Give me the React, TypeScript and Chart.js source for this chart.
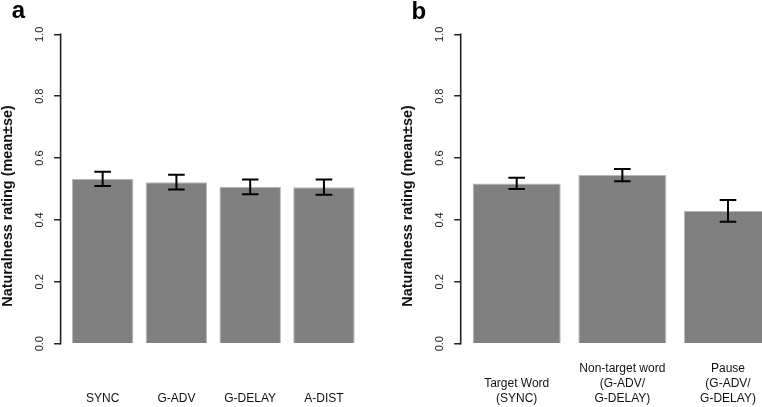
import React, { useEffect, useRef } from 'react';
import { Chart, registerables } from 'chart.js';

Chart.register(...registerables);

const FONT = '"Liberation Sans", Arial, Helvetica, sans-serif';

// Panel a
const categoriesA: (string | string[])[] = ['SYNC', 'G-ADV', 'G-DELAY', 'A-DIST'];
const meansA = [0.533, 0.522, 0.507, 0.506];
const seA = [0.023, 0.024, 0.024, 0.025];

// Panel b
const categoriesB: (string | string[])[] = [
  ['Target Word', '(SYNC)'],
  ['Non-target word', '(G-ADV/', 'G-DELAY)'],
  ['Pause', '(G-ADV/', 'G-DELAY)'],
];
const meansB = [0.518, 0.545, 0.429];
const seB = [0.018, 0.02, 0.035];

const yTicks = [0, 0.2, 0.4, 0.6, 0.8, 1.0];
const yMin = -0.11;
const yMax = 1.0;
const yTitle = 'Naturalness rating (mean±se)';

// R barplot style layout: bar width 1, space 0.2, axis extended by 4%
function barLayout(n: number) {
  const space = 0.2;
  const width = 1;
  const centers = Array.from({ length: n }, (_, i) => space + width / 2 + i * (space + width));
  const lo = space;
  const hi = n * (space + width);
  const ext = 0.04 * (hi - lo);
  return { centers, min: lo - ext, max: hi + ext, barFrac: width / (space + width) };
}

type PanelProps = {
  categories: (string | string[])[];
  means: number[];
  se: number[];
  width: number;
  left: number;
  yAxisW: number;
  titlePad: number;
  padRight: number;
  xPad: number;
};

const H = 407;
const CHART_TOP = 34.3;
const CHART_BOTTOM = 377.7;

function Panel({ categories, means, se, width, left, yAxisW, titlePad, padRight, xPad }: PanelProps) {
  const ref = useRef<HTMLCanvasElement | null>(null);
  useEffect(() => {
    const canvas = ref.current;
    if (!canvas) return;
    const lay = barLayout(categories.length);

    // keep the x scale's pixel range equal to the plot area
    const fixX = {
      id: 'fixX',
      afterLayout(chart: any) {
        const x = chart.scales.x;
        x.left = chart.chartArea.left;
        x.right = chart.width - padRight;
        x.width = x.right - x.left;
        x.configure();
      },
    };

    const errorBars = {
      id: 'errorBars',
      afterDatasetsDraw(chart: any) {
        const meta = chart.getDatasetMeta(0);
        const y = chart.scales.y;
        const ctx = chart.ctx;
        const cap = 8.3;
        ctx.save();
        ctx.strokeStyle = '#000';
        ctx.lineWidth = 2;
        meta.data.forEach((bar: any, i: number) => {
          const x = bar.x;
          const top = y.getPixelForValue(means[i] + se[i]);
          const bot = y.getPixelForValue(means[i] - se[i]);
          ctx.beginPath();
          ctx.moveTo(x, top);
          ctx.lineTo(x, bot);
          ctx.moveTo(x - cap, top);
          ctx.lineTo(x + cap, top);
          ctx.moveTo(x - cap, bot);
          ctx.lineTo(x + cap, bot);
          ctx.stroke();
        });
        ctx.restore();
      },
    };

    const axisLine = {
      id: 'axisLine',
      afterDraw(chart: any) {
        const y = chart.scales.y;
        const ctx = chart.ctx;
        const x = chart.chartArea.left;
        ctx.save();
        ctx.strokeStyle = '#222';
        ctx.lineWidth = 1.6;
        ctx.beginPath();
        ctx.moveTo(x, y.getPixelForValue(yTicks[0]) + 0.75);
        ctx.lineTo(x, y.getPixelForValue(yTicks[yTicks.length - 1]) - 0.75);
        ctx.stroke();
        ctx.restore();
      },
    };

    const chart = new Chart(canvas, {
      type: 'bar',
      data: {
        datasets: [
          {
            data: means.map((m, i) => ({ x: lay.centers[i], y: m })),
            backgroundColor: '#808080',
            borderColor: '#b8b8b8',
            borderWidth: 1,
            categoryPercentage: 1,
            barPercentage: lay.barFrac,
          } as any,
        ],
      },
      options: {
        responsive: false,
        animation: false,
        devicePixelRatio: 1,
        layout: {
          padding: { left: 0, right: padRight, top: CHART_TOP, bottom: H - CHART_BOTTOM },
        },
        plugins: {
          legend: { display: false },
          tooltip: { enabled: false },
          title: { display: false },
        },
        scales: {
          x: {
            type: 'linear',
            position: { y: yMin },
            offset: false,
            min: lay.min,
            max: lay.max,
            grid: { display: false, drawTicks: false, offset: false },
            border: { display: false },
            afterBuildTicks: (s: any) => {
              s.ticks = lay.centers.map((v) => ({ value: v }));
            },
            afterFit: (s: any) => {
              s.height = 0;
              s.paddingLeft = 0;
              s.paddingRight = 0;
            },
            ticks: {
              autoSkip: false,
              maxRotation: 0,
              minRotation: 0,
              crossAlign: 'far',
              padding: xPad,
              color: '#111',
              font: { family: FONT, size: 12, lineHeight: 1.25 },
              callback: (_v: any, i: number) => categories[i],
            },
          } as any,
          y: {
            type: 'linear',
            min: yMin,
            max: yMax,
            afterBuildTicks: (s: any) => {
              s.ticks = yTicks.map((v) => ({ value: v }));
            },
            afterFit: (s: any) => {
              s.width = yAxisW;
            },
            grid: {
              display: true,
              drawOnChartArea: false,
              drawTicks: true,
              tickLength: 6.5,
              tickWidth: 1.5,
              tickColor: '#222',
              lineWidth: 1.5,
            },
            border: { display: false },
            ticks: {
              autoSkip: false,
              minRotation: 90,
              maxRotation: 90,
              crossAlign: 'center',
              padding: 6.5,
              color: '#222',
              font: { family: FONT, size: 11 },
              callback: (v: any) => Number(v).toFixed(1),
            },
            title: {
              display: true,
              text: yTitle,
              color: '#111',
              font: { family: FONT, size: 14.4, weight: 'bold', lineHeight: 1 },
              padding: { top: titlePad, bottom: 0 },
            },
          } as any,
        },
      },
      plugins: [fixX, errorBars, axisLine],
    });
    return () => chart.destroy();
  }, []);
  return (
    <canvas
      ref={ref}
      width={width}
      height={H}
      style={{ position: 'absolute', left, top: 0, width, height: H }}
    />
  );
}

const letterStyle: React.CSSProperties = {
  position: 'absolute',
  fontFamily: FONT,
  fontWeight: 'bold',
  fontSize: 24,
  lineHeight: '24px',
  color: '#000',
};

export default function App() {
  return (
    <div
      style={{
        position: 'fixed',
        left: 0,
        top: 0,
        width: 762,
        height: H,
        overflow: 'hidden',
        background: '#fff',
      }}
    >
      <Panel categories={categoriesA} means={meansA} se={seA} width={381} left={0} yAxisW={60.6} titlePad={0.5} padRight={15} xPad={21} />
      <Panel categories={categoriesB} means={meansB} se={seB} width={403} left={381} yAxisW={79.7} titlePad={19.6} padRight={0} xPad={-9} />
      <div style={{ ...letterStyle, left: 11.8, top: -2 }}>a</div>
      <div style={{ ...letterStyle, left: 411.5, top: -1 }}>b</div>
    </div>
  );
}
